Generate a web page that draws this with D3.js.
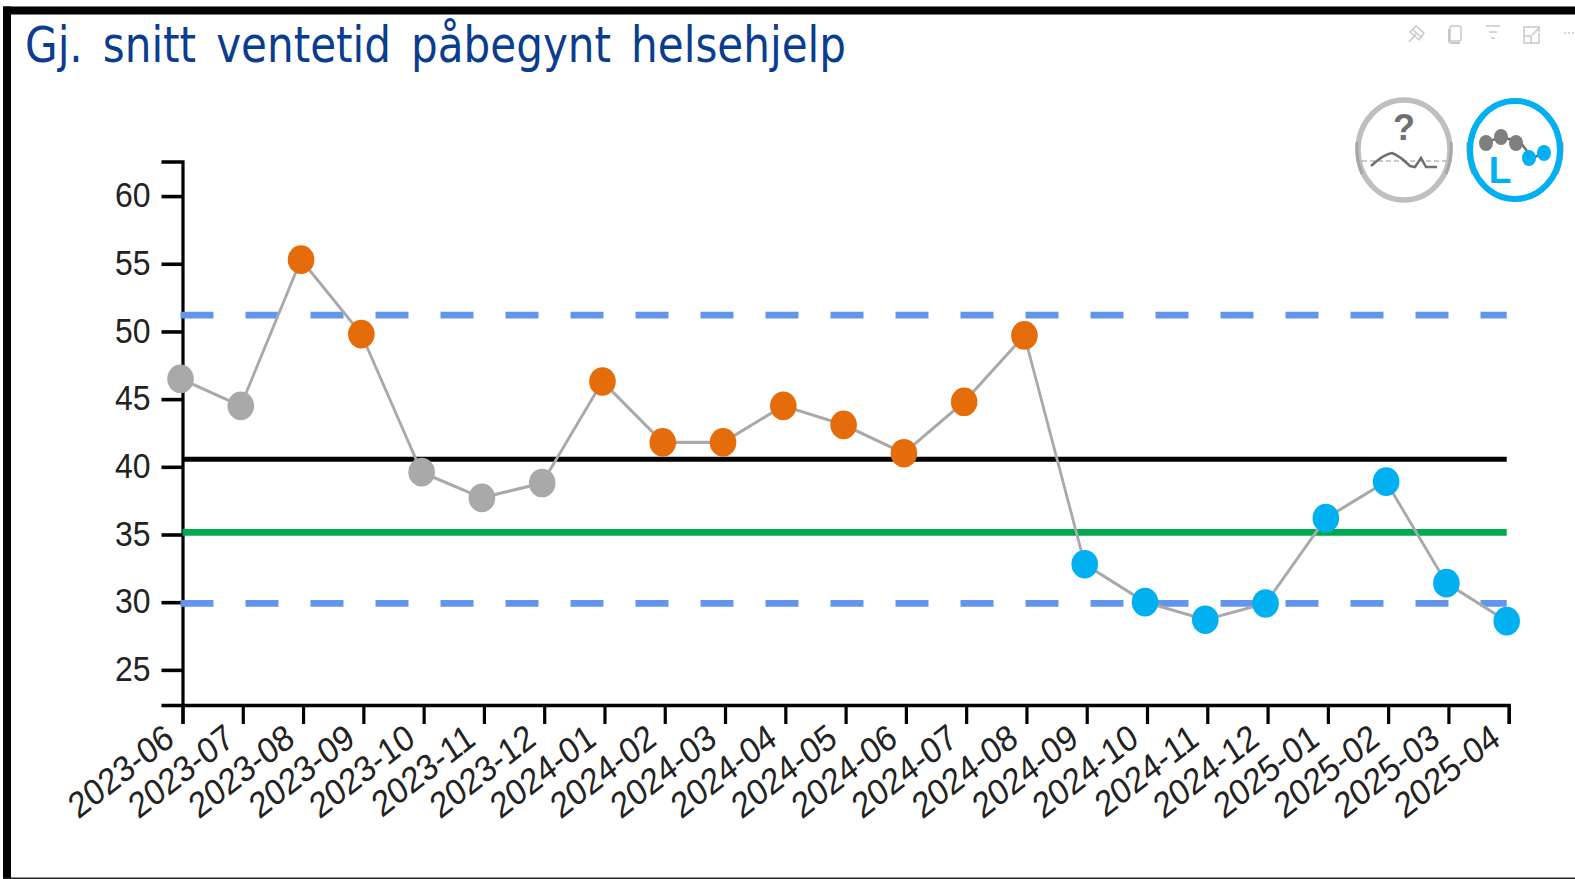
<!DOCTYPE html>
<html>
<head>
<meta charset="utf-8">
<script src="https://cdn.jsdelivr.net/npm/d3@7"></script>
<style>
	html, body { margin: 0; padding: 0; background: #fff; }
	svg { display: block; }
	.axis text { font-family: "Liberation Sans", sans-serif; fill: #222; }
</style>
</head>
<body>
<svg id="chart" width="1575" height="879"></svg>
<script>
const MONTHS = ["2023-06", "2023-07", "2023-08", "2023-09", "2023-10", "2023-11", "2023-12", "2024-01",
	"2024-02", "2024-03", "2024-04", "2024-05", "2024-06", "2024-07", "2024-08", "2024-09", "2024-10",
	"2024-11", "2024-12", "2025-01", "2025-02", "2025-03", "2025-04"];
const WAIT_VALUES = [46.5, 44.5, 55.3, 49.8, 39.6, 37.7, 38.8, 46.3, 41.8, 41.8, 44.5, 43.1, 41.0, 44.8, 49.7,
	32.8, 30.0, 28.7, 29.9, 36.2, 38.9, 31.4, 28.6];
const POINT_GROUPS = ["n", "n", "h", "h", "n", "n", "n", "h", "h", "h", "h", "h", "h", "h", "h",
	"l", "l", "l", "l", "l", "l", "l", "l"];
const Y_TICKS = [25, 30, 35, 40, 45, 50, 55, 60];
const UPPER_LIMIT = 51.2;
const LOWER_LIMIT = 29.9;
const MEAN_VALUE = 40.55;
const TARGET_VALUE = 35.15;

const GROUP_COLORS = { n: "#a9a9a9", h: "#e56c0a", l: "#00b0f0" };
const STRETCH_Y = 1.12;

const svg = d3.select("#chart");

// page frame, only left, top and bottom are drawn in the source
svg.append("rect").attr("x", 3).attr("y", 6.5).attr("width", 1572).attr("height", 8).attr("fill", "#000");
svg.append("rect").attr("x", 3).attr("y", 6.5).attr("width", 8).attr("height", 872.5).attr("fill", "#000");
svg.append("rect").attr("x", 3).attr("y", 877.5).attr("width", 1572).attr("height", 1.5).attr("fill", "#222");

svg.append("text")
	.attr("x", 25)
	.attr("y", 62)
	.attr("font-family", "'DejaVu Sans', sans-serif")
	.attr("font-stretch", "condensed")
	.attr("font-size", 49)
	.attr("word-spacing", 7)
	.attr("fill", "#0a3d8f")
	.attr("textLength", 821)
	.attr("lengthAdjust", "spacingAndGlyphs")
	.text("Gj. snitt ventetid påbegynt helsehjelp");

// everything in the plot is slightly taller than wide in the source
const g = svg.append("g").attr("transform", "scale(1," + STRETCH_Y + ")");

const x = d3.scalePoint().domain(MONTHS).range([182.5, 1508.7]);
const xPoints = d3.scalePoint().domain(MONTHS).range([180.5, 1506.7]);
const y = d3.scaleLinear().domain([22.4, 62.55]).range([705 / STRETCH_Y, 161.5 / STRETCH_Y]);

const xAxis = g.append("g")
	.attr("class", "axis")
	.attr("transform", "translate(0," + y.range()[0] + ")")
	.call(d3.axisBottom(x).tickSize(17).tickSizeOuter(17));
xAxis.select(".domain").attr("stroke", "#000").attr("stroke-width", 3.2);
xAxis.selectAll(".tick line").attr("stroke", "#000").attr("stroke-width", 3.2);
xAxis.selectAll("text")
	.attr("font-size", 32.5)
	.attr("text-anchor", "end")
	.attr("x", 0)
	.attr("y", 0)
	.attr("dy", 0)
	.attr("transform", "translate(-7,34) rotate(-35)");

const yAxis = g.append("g")
	.attr("class", "axis")
	.attr("transform", "translate(" + x.range()[0] + ",0)")
	.call(d3.axisLeft(y).tickValues(Y_TICKS).tickSize(21).tickSizeOuter(21).tickPadding(11));
yAxis.select(".domain").attr("stroke", "#000").attr("stroke-width", 3.2);
yAxis.selectAll(".tick line").attr("stroke", "#000").attr("stroke-width", 3.2);
yAxis.selectAll("text").attr("font-size", 32).attr("dy", "0.3em");

const hLine = (value, color, width, dash, start) => {
	g.append("line")
		.attr("x1", start)
		.attr("x2", xPoints(MONTHS[MONTHS.length - 1]))
		.attr("y1", y(value))
		.attr("y2", y(value))
		.attr("stroke", color)
		.attr("stroke-width", width)
		.attr("stroke-dasharray", dash);
};
hLine(UPPER_LIMIT, "#6495ed", 6, "33 32", xPoints(MONTHS[0]));
hLine(LOWER_LIMIT, "#6495ed", 6, "33 32", xPoints(MONTHS[0]));
hLine(MEAN_VALUE, "#000", 4.5, null, x(MONTHS[0]));
hLine(TARGET_VALUE, "#00a94f", 6, null, x(MONTHS[0]));

const line = d3.line()
	.x((d, i) => xPoints(MONTHS[i]))
	.y((d) => y(d));
g.append("path")
	.datum(WAIT_VALUES)
	.attr("d", line)
	.attr("fill", "none")
	.attr("stroke", "#a9a9a9")
	.attr("stroke-width", 2.8);

g.append("g")
	.selectAll("ellipse")
	.data(WAIT_VALUES)
	.enter().append("ellipse")
	.attr("cx", (d, i) => xPoints(MONTHS[i]))
	.attr("cy", (d) => y(d))
	.attr("rx", 13.3)
	.attr("ry", 12.8)
	.attr("fill", (d, i) => GROUP_COLORS[POINT_GROUPS[i]]);

// visual header icons
const icons = svg.append("g").attr("fill", "none").attr("stroke", "#c8c8c8").attr("stroke-width", 1.5);
icons.append("path").attr("d", "M1409 42 L1416 34 M1412 29 L1422 38 M1416 26 L1424 33 L1419 40 L1410 32 Z");
icons.append("rect").attr("x", 1450).attr("y", 26).attr("width", 11).attr("height", 15).attr("rx", 2);
icons.append("path").attr("d", "M1449 29 V41 Q1449 43 1452 43 H1460").attr("stroke-width", 2);
icons.append("path").attr("d", "M1486 26 H1500 M1489 32 H1497 M1491 38 H1495");
icons.append("path").attr("d", "M1534 27 H1524 V43 H1539 V33 M1532 35 L1539 28 M1534 27 H1539 V32 M1524 36 H1531 V43");
icons.append("path").attr("d", "M1564 33 H1575").attr("stroke-dasharray", "2 2");

// state icons, the run chart badges
const unknown = svg.append("g").attr("transform", "translate(1404,150)").attr("fill", "none");
unknown.append("ellipse").attr("rx", 46).attr("ry", 50).attr("stroke", "#bfbfbf").attr("stroke-width", 5.5);
unknown.append("path").attr("d", "M-47 -8 Q-48 10 -42 24").attr("stroke", "#a6a6a6").attr("stroke-width", 3);
unknown.append("path").attr("d", "M47 -8 Q48 10 42 24").attr("stroke", "#a6a6a6").attr("stroke-width", 3);
unknown.append("path").attr("d", "M-42 11 H42").attr("stroke", "#bbb").attr("stroke-width", 1.5).attr("stroke-dasharray", "5 3");
unknown.append("path").attr("d", "M-33 16 Q-20 4 -12 3 Q-4 6 6 16 L11 17 L17 8 L22 17 L33 17").attr("stroke", "#707070").attr("stroke-width", 2.5);
unknown.append("text").attr("x", 0).attr("y", -10).attr("text-anchor", "middle")
	.attr("font-family", "'Liberation Sans', sans-serif").attr("font-weight", "bold").attr("font-size", 36)
	.attr("fill", "#707070").text("?");

const low = svg.append("g").attr("transform", "translate(1515,150)").attr("fill", "none");
low.append("path").attr("d", "M-47 -8 Q-48 10 -42 24").attr("stroke", "#a6a6a6").attr("stroke-width", 3);
low.append("path").attr("d", "M47 -8 Q48 10 42 24").attr("stroke", "#a6a6a6").attr("stroke-width", 3);
low.append("ellipse").attr("rx", 45).attr("ry", 49).attr("stroke", "#00b0f0").attr("stroke-width", 6);
low.append("path").attr("d", "M-33 -7 L-12 -13 L6 -7 L17 8 L30 3").attr("stroke", "#707070").attr("stroke-width", 2.5);
low.append("ellipse").attr("cx", -29).attr("cy", -7).attr("rx", 7).attr("ry", 8).attr("fill", "#7f7f7f");
low.append("ellipse").attr("cx", -14).attr("cy", -13).attr("rx", 7).attr("ry", 8).attr("fill", "#7f7f7f");
low.append("ellipse").attr("cx", 1).attr("cy", -7).attr("rx", 7).attr("ry", 8).attr("fill", "#7f7f7f");
low.append("ellipse").attr("cx", 14).attr("cy", 8).attr("rx", 7).attr("ry", 8).attr("fill", "#00b0f0");
low.append("ellipse").attr("cx", 29).attr("cy", 3).attr("rx", 7).attr("ry", 8).attr("fill", "#00b0f0");
low.append("text").attr("x", -15).attr("y", 33).attr("text-anchor", "middle")
	.attr("font-family", "'Liberation Sans', sans-serif").attr("font-weight", "bold").attr("font-size", 37).attr("fill", "#00b0f0").text("L");
</script>
</body>
</html>
